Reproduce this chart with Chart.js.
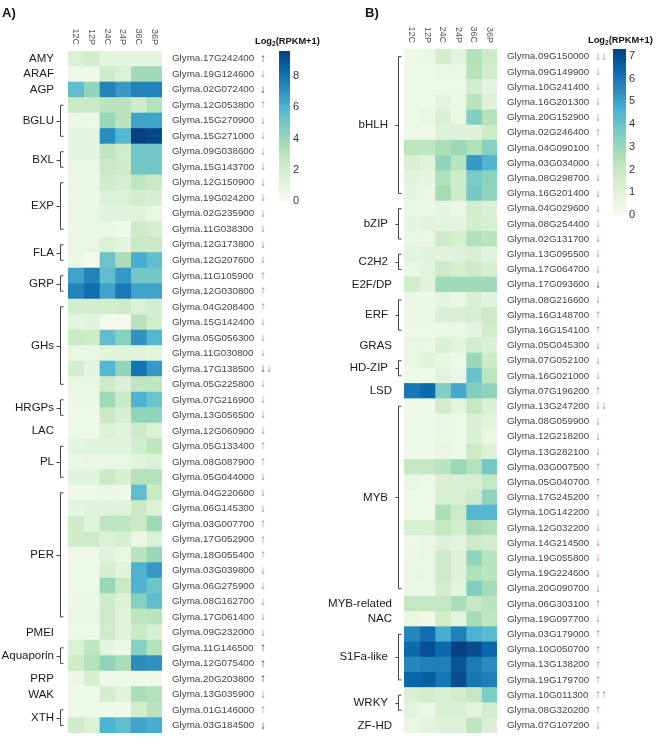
<!DOCTYPE html>
<html>
<head>
<meta charset="utf-8">
<script src="https://cdn.jsdelivr.net/npm/chart.js@4.4.1/dist/chart.umd.min.js"></script>
<style>
html,body{margin:0;padding:0;background:#fff;}
canvas{position:absolute;top:0;}
</style>
</head>
<body>
<canvas id="cA" width="330" height="749" style="left:0;width:330px;height:749px"></canvas>
<canvas id="cB" width="347" height="749" style="left:310px;width:347px;height:749px"></canvas>
<script>
// ---------- DATA ----------
const COLS = ['12C','12P','24C','24P','36C','36P'];

// Panel A
const genesA = ['Glyma.17G242400','Glyma.19G124600','Glyma.02G072400','Glyma.12G053800','Glyma.15G270900','Glyma.15G271000','Glyma.09G038600','Glyma.15G143700','Glyma.12G150900','Glyma.19G024200','Glyma.02G235900','Glyma.11G038300','Glyma.12G173800','Glyma.12G207600','Glyma.11G105900','Glyma.12G030800','Glyma.04G208400','Glyma.15G142400','Glyma.05G056300','Glyma.11G030800','Glyma.17G138500','Glyma.05G225800','Glyma.07G216900','Glyma.13G056500','Glyma.12G060900','Glyma.05G133400','Glyma.08G087900','Glyma.05G044000','Glyma.04G220600','Glyma.06G145300','Glyma.03G007700','Glyma.17G052900','Glyma.18G055400','Glyma.03G039800','Glyma.06G275900','Glyma.08G162700','Glyma.17G061400','Glyma.09G232000','Glyma.11G146500','Glyma.12G075400','Glyma.20G203800','Glyma.13G035900','Glyma.01G146000','Glyma.03G184500'];
const groupNamesA = ['AMY','ARAF','AGP','BGLU','BXL','EXP','FLA','GRP','GHs','HRGPs','LAC','PL','PER','PMEI','Aquaporin','PRP','WAK','XTH'];
const groupSizesA = [1,1,1,3,2,4,2,2,6,2,1,3,9,1,2,1,1,2];
const arrowsA = ['↑','↓','↓','↑','↓','↓','↓','↓','↓','↓','↓','↓','↓','↓','↑','↑','↑','↓','↓','↓','↓↓','↓','↓','↓','↓','↑','↑','↓','↓','↓','↑','↑','↑','↓','↓','↓','↓','↓','↑','↑','↑','↓','↑','↓'];
const arrowColA = ['k','r','k','b','r','r','r','r','r','r','b','b','r','r','r','r','b','b','b','b','kr','r','r','r','r','b','b','r','b','b','b','b','b','r','r','r','r','r','k','k','k','r','b','k'];
const A_12C = [1.5,0.5,5.5,2.5,0.7,1.0,1.0,0.8,0.7,0.7,0.8,0.7,0.8,0.7,6.5,7.5,2.0,1.0,2.5,0.8,2.0,0.8,0.7,0.5,0.5,1.0,0.7,1.2,0.5,1.0,2.2,2.2,0.5,0.5,0.5,0.7,0.8,0.5,1.5,2.2,0.7,0.5,0.5,2.2];
const A_12P = [2.0,0.5,4.2,2.5,0.5,1.0,1.0,0.8,0.7,0.7,0.8,0.7,0.8,0.3,7.5,8.2,2.0,1.2,2.2,0.8,1.0,0.8,0.7,0.5,0.5,1.2,0.8,1.2,0.5,1.2,1.2,2.2,0.5,0.5,0.5,0.7,0.8,0.5,2.8,3.2,1.8,0.5,0.5,1.5];
const A_24C = [1.0,2.2,7.5,3.0,4.0,7.2,2.8,2.5,2.2,1.5,1.2,0.7,1.5,5.2,5.5,6.5,2.0,0.3,5.5,1.2,5.8,2.2,3.8,2.5,1.5,1.2,0.8,2.5,0.7,1.2,2.8,1.5,1.2,1.8,4.0,2.2,2.2,2.2,1.0,4.2,0.5,2.0,0.4,6.0];
const A_24P = [1.0,1.5,6.8,3.0,3.0,5.8,2.2,2.2,1.8,1.5,1.2,0.4,1.0,3.5,6.8,7.8,2.2,0.3,4.5,1.2,4.2,1.5,2.5,1.8,1.2,1.2,0.8,1.8,0.5,1.2,2.8,1.8,0.8,1.2,2.5,1.5,1.2,1.2,0.7,3.5,0.5,1.2,0.4,5.5];
const A_36C = [1.0,3.8,7.5,2.2,6.5,9.6,5.0,5.0,2.8,2.0,1.2,2.2,2.5,6.2,5.0,6.5,1.5,3.0,7.0,1.2,8.0,2.8,6.0,4.2,2.2,2.0,1.2,3.2,5.5,2.5,2.5,0.7,3.0,6.0,6.0,4.5,2.8,2.5,4.5,7.2,0.5,3.5,2.0,6.5];
const A_36P = [1.0,3.8,7.5,3.2,6.5,9.4,5.0,5.0,2.5,1.8,0.8,1.8,2.5,5.5,5.0,6.5,2.0,2.0,5.8,1.0,6.8,2.8,5.2,4.2,1.5,2.8,1.5,3.2,2.5,1.5,3.8,1.5,4.0,6.8,5.2,5.5,3.0,1.8,3.2,7.0,0.4,3.2,3.0,6.2];
const ticksA = [0,2,4,6,8];
const maxA = 9.6;

// Panel B
const genesB = ['Glyma.09G150000','Glyma.09G149900','Glyma.10G241400','Glyma.16G201300','Glyma.20G152900','Glyma.02G246400','Glyma.04G090100','Glyma.03G034000','Glyma.08G298700','Glyma.16G201400','Glyma.04G029600','Glyma.08G254400','Glyma.02G131700','Glyma.13G095500','Glyma.17G064700','Glyma.17G093600','Glyma.08G216600','Glyma.16G148700','Glyma.16G154100','Glyma.05G045300','Glyma.07G052100','Glyma.16G021000','Glyma.07G196200','Glyma.13G247200','Glyma.08G059900','Glyma.12G218200','Glyma.13G282100','Glyma.03G007500','Glyma.05G040700','Glyma.17G245200','Glyma.10G142200','Glyma.12G032200','Glyma.14G214500','Glyma.19G055800','Glyma.19G224600','Glyma.20G090700','Glyma.06G303100','Glyma.19G097700','Glyma.03G179000','Glyma.10G050700','Glyma.13G138200','Glyma.19G179700','Glyma.10G011300','Glyma.08G320200','Glyma.07G107200'];
const groupNamesB = ['bHLH','bZIP','C2H2','E2F/DP','ERF','GRAS','HD-ZIP','LSD','MYB','MYB-related','NAC','S1Fa-like','WRKY','ZF-HD'];
const groupSizesB = [10,3,2,1,3,1,2,1,13,1,1,4,2,1];
const arrowsB = ['↓↓','↓','↓','↓','↓','↑','↑','↓','↓','↓','↓','↓','↓','↓','↓','↓','↓','↑','↑','↓','↓','↓','↑','↓↓','↓','↓','↓','↑','↑','↑','↓','↓','↓','↓','↓','↓','↑','↓','↑','↑','↑','↑','↑↑','↑','↓'];
const arrowColB = ['br','b','b','b','b','b','b','r','r','r','b','b','r','b','b','k','b','b','b','r','b','b','r','br','b','b','b','b','b','b','r','r','r','r','r','r','r','r','r','r','r','r','br','b','b'];
const B_12C = [0.4,0.4,0.4,0.4,0.4,0.4,2.2,1.2,0.9,0.7,0.5,0.7,0.6,0.8,0.6,1.6,0.5,0.5,0.4,0.6,0.6,0.4,6.0,0.4,0.3,0.3,0.3,2.0,0.6,0.4,0.4,1.3,0.4,0.5,0.6,0.5,2.0,0.6,5.6,6.3,5.6,6.4,1.2,0.8,0.6];
const B_12P = [0.5,0.4,0.4,0.4,0.6,0.4,2.2,0.9,0.7,0.6,0.5,0.9,0.6,0.9,0.8,0.9,0.5,0.5,0.4,0.6,0.9,0.4,6.3,0.4,0.3,0.3,0.3,2.0,0.4,0.4,0.4,1.3,0.6,0.6,0.6,0.5,2.0,0.4,6.2,6.9,5.8,6.6,1.6,0.5,0.8];
const B_24C = [1.6,0.6,0.4,0.8,1.2,1.0,2.6,3.2,2.5,2.8,0.7,0.8,1.8,0.9,1.8,2.9,0.8,1.2,0.5,1.2,0.6,0.8,3.5,1.6,0.5,0.5,0.6,2.3,1.2,1.3,2.6,2.0,1.0,1.8,1.8,1.6,2.0,1.6,4.7,6.3,5.8,6.0,1.2,1.3,1.0];
const B_24P = [0.8,0.6,0.4,0.5,0.6,1.0,3.0,2.3,1.8,1.8,0.5,0.8,1.4,1.0,1.4,2.9,0.6,1.2,0.5,0.8,0.4,0.6,4.8,0.8,0.4,0.4,0.4,3.0,1.2,1.3,1.8,1.5,0.8,1.0,1.0,0.8,2.7,0.8,5.8,7.3,6.8,7.0,1.6,1.3,1.0];
const B_36C = [2.5,2.4,1.5,2.3,3.5,1.0,2.5,5.2,3.7,3.8,1.6,1.5,2.5,1.2,1.8,2.9,1.2,1.4,0.8,1.5,3.0,4.0,3.5,2.0,1.2,1.2,1.8,2.4,1.3,1.8,4.4,2.8,1.8,3.2,2.5,3.5,2.0,2.8,4.6,7.0,5.9,6.0,2.0,0.8,2.2];
const B_36P = [1.8,1.6,0.8,1.0,2.4,1.8,3.4,4.5,3.3,3.2,1.2,1.3,2.3,0.9,1.4,2.9,0.9,1.8,1.6,1.2,1.8,2.2,3.2,1.2,0.8,0.6,1.0,3.8,2.0,3.2,4.4,2.5,1.5,2.3,2.3,2.8,2.3,2.2,4.3,6.4,5.5,5.8,3.6,1.5,1.2];
const ticksB = [0,1,2,3,4,5,6,7];
const maxB = 7.3;

// ---------- STYLE ----------
const FONT = '"Liberation Sans", Arial, sans-serif';
const GNBU = ['#f7fcf0','#e0f3db','#ccebc5','#a8ddb5','#7bccc4','#4eb3d3','#2b8cbe','#0868ac','#084081'];
const ARROWCOL = {k:'#3a3a3a', r:'#e2566a', b:'#5f93bf'};

function hex2rgb(h){return [parseInt(h.substr(1,2),16),parseInt(h.substr(3,2),16),parseInt(h.substr(5,2),16)];}
const PAL = GNBU.map(hex2rgb);
function colorFor(v,max){
  let t = Math.max(0, Math.min(1, v/max)) * (PAL.length-1);
  let i = Math.min(PAL.length-2, Math.floor(t)), f = t - i;
  const a = PAL[i], b = PAL[i+1];
  const c = a.map((x,j)=>Math.round(x + (b[j]-x)*f));
  return 'rgb('+c.join(',')+')';
}

function overlay(P){
  return {
    id:'overlay'+P.letter[0],
    afterDraw(chart){
      const ctx = chart.ctx, xs = chart.scales.x, ys = chart.scales.y, ca = chart.chartArea;
      ctx.save();
      // panel letter
      ctx.fillStyle = '#111';
      ctx.font = 'bold 13px ' + FONT;
      ctx.textAlign = 'left'; ctx.textBaseline = 'alphabetic';
      ctx.fillText(P.letter, P.letterX, 17);
      // column labels (rotated, reading downward)
      ctx.font = '9px ' + FONT;
      ctx.fillStyle = '#555';
      COLS.forEach((c,k)=>{
        const x = xs.getPixelForValue(k+0.5);
        ctx.save();
        ctx.translate(x, ca.top - 6);
        ctx.rotate(Math.PI/2);
        ctx.textAlign = 'right'; ctx.textBaseline = 'middle';
        ctx.fillText(c, 0, 0);
        ctx.restore();
      });
      // arrows
      ctx.font = '11.5px ' + FONT;
      ctx.textAlign = 'center'; ctx.textBaseline = 'middle';
      P.arrows.forEach((a,i)=>{
        const y = ys.getPixelForValue(i);
        const chars = Array.from(a);
        chars.forEach((ch,j)=>{
          ctx.fillStyle = ARROWCOL[P.arrowCols[i][j]];
          ctx.fillText(ch, P.arrowX + j*6, y);
        });
      });
      // groups & brackets
      ctx.font = '11.5px ' + FONT;
      ctx.fillStyle = '#1a1a1a';
      ctx.strokeStyle = '#444';
      ctx.lineWidth = 1;
      ctx.textAlign = 'right'; ctx.textBaseline = 'middle';
      let s = 0;
      P.groupNames.forEach((g,gi)=>{
        const n = P.groupSizes[gi];
        const y0 = ys.getPixelForValue(s), y1 = ys.getPixelForValue(s+n-1);
        const ym = (y0+y1)/2;
        if(n > 1){
          ctx.fillText(g, P.multiX, ym);
          const bx = P.bracketX + 0.5;
          ctx.beginPath();
          ctx.moveTo(bx+3, y0); ctx.lineTo(bx, y0); ctx.lineTo(bx, y1); ctx.lineTo(bx+3, y1);
          ctx.moveTo(bx, Math.round(ym)+0.5); ctx.lineTo(bx - P.tick, Math.round(ym)+0.5);
          ctx.stroke();
        } else {
          ctx.fillText(g, P.singleX, ym);
        }
        s += n;
      });
      // colorbar
      const cb = P.cb;
      const grad = ctx.createLinearGradient(0, cb.yBot, 0, cb.yTop);
      GNBU.forEach((c,i)=>grad.addColorStop(i/(GNBU.length-1), c));
      ctx.fillStyle = grad;
      ctx.fillRect(cb.x0, cb.yTop, cb.x1 - cb.x0, cb.yBot - cb.yTop);
      ctx.fillStyle = '#333';
      ctx.font = '11px ' + FONT;
      ctx.textAlign = 'left'; ctx.textBaseline = 'middle';
      P.ticks.forEach(t=>{
        const y = cb.yBot - (cb.yBot - cb.yTop) * t / P.max;
        ctx.fillText(String(t), cb.x1 + 3, y);
      });
      // colorbar title Log2(RPKM+1)
      ctx.fillStyle = '#111';
      ctx.textBaseline = 'alphabetic';
      ctx.font = 'bold 9.3px ' + FONT;
      let tx = cb.titleX;
      ctx.fillText('Log', tx, cb.titleY); tx += ctx.measureText('Log').width;
      ctx.font = 'bold 6.5px ' + FONT;
      ctx.fillText('2', tx, cb.titleY + 2); tx += ctx.measureText('2').width;
      ctx.font = 'bold 9.3px ' + FONT;
      ctx.fillText('(RPKM+1)', tx, cb.titleY);
      ctx.restore();
    }
  };
}

function makeChart(id, genes, cols, max, pad, axisW, P){
  const datasets = cols.map((vals,k)=>({
    data: genes.map(()=>[k, k+1]),
    backgroundColor: vals.map(v=>colorFor(v,max)),
    borderColor: vals.map(v=>colorFor(v,max)),
    borderWidth: 0,
    barPercentage: 1,
    categoryPercentage: 1,
    grouped: false
  }));
  return new Chart(document.getElementById(id), {
    type: 'bar',
    data: { labels: genes, datasets },
    options: {
      indexAxis: 'y',
      responsive: false,
      animation: false,
      devicePixelRatio: 1,
      layout: { padding: pad },
      plugins: { legend: {display:false}, tooltip: {enabled:false} },
      scales: {
        x: { type:'linear', min:0, max:6, display:false },
        y: {
          type:'category', position:'right',
          grid: {display:false, drawTicks:false},
          border: {display:false},
          ticks: { padding:10, color:'#444', autoSkip:false, font:{family:FONT, size:9.8} },
          afterFit(s){ s.width = axisW; }
        }
      }
    },
    plugins: [overlay(P)]
  });
}

makeChart('cA', genesA, [A_12C,A_12P,A_24C,A_24P,A_36C,A_36P], maxA,
  {left:68, top:51, right:0, bottom:8}, 168,
  {letter:'A)', letterX:2, arrows:arrowsA, arrowCols:arrowColA, arrowX:263,
   groupNames:groupNamesA, groupSizes:groupSizesA, multiX:54, singleX:54, bracketX:60, tick:4,
   ticks:ticksA, max:maxA,
   cb:{x0:279, x1:290, yTop:51, yBot:201, titleX:255, titleY:44}});

makeChart('cB', genesB, [B_12C,B_12P,B_24C,B_24P,B_36C,B_36P], maxB,
  {left:94, top:49, right:0, bottom:7}, 160,
  {letter:'B)', letterX:55, arrows:arrowsB, arrowCols:arrowColB, arrowX:288,
   groupNames:groupNamesB, groupSizes:groupSizesB, multiX:78, singleX:82, bracketX:88, tick:3,
   ticks:ticksB, max:maxB,
   cb:{x0:303, x1:316, yTop:49, yBot:215, titleX:278, titleY:43}});
</script>
</body>
</html>
